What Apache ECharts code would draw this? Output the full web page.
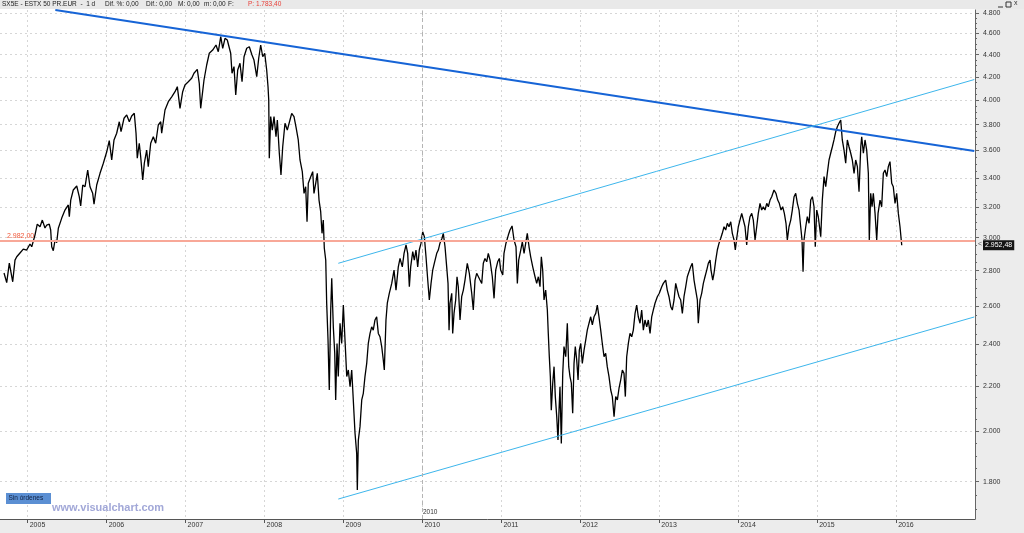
<!DOCTYPE html>
<html><head><meta charset="utf-8">
<script src="https://cdn.jsdelivr.net/npm/echarts@6/dist/echarts.min.js"></script>
<style>html,body{margin:0;padding:0;background:#fff}#c{width:1024px;height:533px}</style>
</head><body><div id="c"></div>
<script>
// ---- data (decimal year, close) ----
const years = [
2004.700,2004.734,2004.767,2004.810,2004.839,2004.861,2004.902,2004.944,2004.987,2005.029,
2005.051,2005.092,2005.121,2005.156,2005.185,2005.219,2005.241,2005.273,2005.291,2005.304,
2005.324,2005.346,2005.367,2005.388,2005.431,2005.472,2005.514,2005.527,2005.545,2005.577,
2005.621,2005.653,2005.671,2005.697,2005.726,2005.760,2005.789,2005.823,2005.840,2005.874,
2005.916,2005.958,2006.001,2006.033,2006.064,2006.093,2006.127,2006.160,2006.182,2006.220,
2006.254,2006.287,2006.317,2006.350,2006.372,2006.388,2006.413,2006.431,2006.457,2006.477,
2006.507,2006.527,2006.558,2006.591,2006.621,2006.654,2006.685,2006.697,2006.739,2006.781,
2006.824,2006.866,2006.895,2006.929,2006.963,2006.992,2007.034,2007.077,2007.106,2007.148,
2007.173,2007.191,2007.212,2007.233,2007.267,2007.300,2007.343,2007.385,2007.414,2007.445,
2007.470,2007.499,2007.528,2007.550,2007.571,2007.588,2007.613,2007.635,2007.660,2007.689,
2007.715,2007.740,2007.774,2007.807,2007.841,2007.866,2007.901,2007.926,2007.951,2007.977,
2008.002,2008.027,2008.044,2008.053,2008.060,2008.078,2008.098,2008.120,2008.145,2008.162,
2008.187,2008.208,2008.230,2008.259,2008.288,2008.322,2008.344,2008.373,2008.398,2008.427,
2008.449,2008.478,2008.500,2008.521,2008.538,2008.554,2008.585,2008.610,2008.626,2008.648,
2008.668,2008.690,2008.711,2008.728,2008.744,2008.757,2008.775,2008.787,2008.804,2008.820,
2008.838,2008.851,2008.871,2008.889,2008.901,2008.918,2008.934,2008.956,2008.977,2008.998,
2009.019,2009.041,2009.061,2009.083,2009.104,2009.124,2009.146,2009.167,2009.175,2009.188,
2009.209,2009.231,2009.251,2009.272,2009.294,2009.314,2009.336,2009.357,2009.377,2009.399,
2009.420,2009.441,2009.462,2009.484,2009.504,2009.517,2009.538,2009.555,2009.580,2009.611,
2009.640,2009.665,2009.694,2009.716,2009.745,2009.767,2009.792,2009.813,2009.834,2009.851,
2009.877,2009.897,2009.918,2009.940,2009.960,2009.982,2010.003,2010.024,2010.045,2010.067,
2010.087,2010.109,2010.130,2010.150,2010.181,2010.201,2010.222,2010.248,2010.264,2010.286,
2010.307,2010.324,2010.337,2010.349,2010.371,2010.383,2010.400,2010.421,2010.438,2010.454,
2010.476,2010.497,2010.518,2010.539,2010.568,2010.594,2010.624,2010.644,2010.666,2010.687,
2010.708,2010.729,2010.751,2010.771,2010.792,2010.814,2010.834,2010.856,2010.885,2010.907,
2010.928,2010.953,2010.974,2010.991,2011.017,2011.033,2011.058,2011.088,2011.109,2011.135,
2011.160,2011.185,2011.202,2011.219,2011.245,2011.265,2011.287,2011.308,2011.328,2011.350,
2011.371,2011.397,2011.426,2011.447,2011.468,2011.489,2011.506,2011.523,2011.540,2011.561,
2011.582,2011.594,2011.607,2011.620,2011.632,2011.650,2011.667,2011.683,2011.701,2011.717,
2011.730,2011.742,2011.759,2011.777,2011.793,2011.815,2011.835,2011.853,2011.869,2011.886,
2011.903,2011.920,2011.936,2011.954,2011.971,2011.987,2012.005,2012.025,2012.047,2012.068,
2012.088,2012.110,2012.131,2012.152,2012.173,2012.195,2012.215,2012.236,2012.258,2012.278,
2012.300,2012.321,2012.341,2012.363,2012.385,2012.405,2012.427,2012.448,2012.469,2012.490,
2012.511,2012.532,2012.553,2012.570,2012.587,2012.608,2012.629,2012.651,2012.671,2012.693,
2012.714,2012.734,2012.756,2012.777,2012.798,2012.819,2012.841,2012.861,2012.883,2012.904,
2012.924,2012.946,2012.975,2013.000,2013.031,2013.051,2013.081,2013.101,2013.123,2013.145,
2013.165,2013.187,2013.208,2013.228,2013.250,2013.271,2013.292,2013.313,2013.335,2013.355,
2013.376,2013.398,2013.418,2013.440,2013.461,2013.482,2013.494,2013.516,2013.537,2013.558,
2013.579,2013.601,2013.621,2013.643,2013.655,2013.677,2013.693,2013.715,2013.735,2013.757,
2013.778,2013.798,2013.820,2013.841,2013.862,2013.883,2013.905,2013.925,2013.947,2013.963,
2013.981,2014.001,2014.022,2014.044,2014.064,2014.086,2014.107,2014.128,2014.149,2014.171,
2014.191,2014.213,2014.234,2014.254,2014.276,2014.297,2014.318,2014.339,2014.361,2014.381,
2014.403,2014.424,2014.453,2014.478,2014.500,2014.520,2014.542,2014.563,2014.584,2014.605,
2014.622,2014.643,2014.665,2014.685,2014.707,2014.728,2014.749,2014.770,2014.791,2014.808,
2014.821,2014.833,2014.855,2014.875,2014.897,2014.918,2014.939,2014.960,2014.976,2014.994,
2015.014,2015.045,2015.065,2015.087,2015.108,2015.128,2015.150,2015.171,2015.192,2015.213,
2015.235,2015.255,2015.276,2015.298,2015.318,2015.340,2015.361,2015.382,2015.403,2015.425,
2015.445,2015.467,2015.488,2015.509,2015.530,2015.552,2015.564,2015.585,2015.606,2015.627,
2015.648,2015.660,2015.678,2015.695,2015.711,2015.733,2015.754,2015.771,2015.796,2015.817,
2015.838,2015.859,2015.881,2015.901,2015.922,2015.944,2015.964,2015.986,2016.007,2016.028,
2016.049,2016.071
];
const closes = [
2786,2730,2844,2735,2862,2882,2905,2929,2923,2960,
2943,3016,3086,3069,3112,3061,3080,3086,3048,2943,
2919,2985,2968,3059,3125,3178,3212,3134,3245,3314,
3342,3268,3205,3349,3337,3456,3337,3291,3218,3349,
3432,3505,3590,3675,3529,3680,3732,3823,3744,3851,
3878,3823,3869,3891,3732,3542,3655,3553,3384,3505,
3603,3480,3655,3705,3655,3797,3823,3732,3918,3987,
4028,4071,4114,3932,4071,4129,4157,4187,4231,4266,
4143,3932,3918,4172,4305,4412,4442,4489,4426,4568,
4458,4552,4536,4552,4412,4231,4290,4043,4260,4320,
4157,4380,4458,4473,4396,4350,4201,4366,4489,4380,
4412,4260,4114,4001,3542,3864,3757,3864,3705,3837,
3579,3420,3628,3811,3757,3837,3891,3864,3783,3680,
3529,3444,3291,3337,3101,3361,3408,3444,3291,3361,
3432,3245,3167,3027,3112,2934,2862,2615,2421,2181,
2578,2755,2489,2355,2136,2404,2243,2508,2404,2605,
2421,2243,2274,2196,2274,2136,1992,1910,1769,1964,
2020,2136,2166,2243,2306,2404,2455,2489,2472,2525,
2542,2455,2438,2388,2322,2274,2525,2615,2670,2726,
2803,2688,2822,2872,2822,2903,2954,2903,2707,2822,
2913,2862,2923,2822,2923,2965,3037,3006,2882,2745,
2633,2726,2803,2843,2903,2923,2965,2996,3027,2943,
2822,2726,2472,2615,2670,2455,2560,2633,2764,2707,
2525,2651,2688,2745,2843,2784,2670,2578,2745,2784,
2793,2745,2726,2843,2872,2852,2903,2862,2764,2642,
2803,2852,2872,2803,2774,2903,2965,3016,3048,3074,
2985,2943,2726,2862,2923,2974,2903,2965,3027,2943,
2882,2822,2764,2726,2764,2707,2882,2803,2633,2688,
2578,2455,2338,2243,2091,2212,2290,2151,2062,1964,
2091,2196,1950,2258,2388,2338,2508,2290,2243,2212,
2077,2306,2388,2322,2227,2371,2404,2306,2371,2421,
2472,2508,2542,2499,2542,2560,2605,2542,2472,2404,
2338,2355,2290,2243,2181,2151,2062,2151,2136,2189,
2227,2274,2258,2151,2338,2404,2455,2438,2472,2560,
2605,2542,2508,2578,2472,2525,2489,2525,2455,2542,
2578,2615,2651,2670,2707,2726,2745,2688,2651,2596,
2578,2633,2726,2688,2651,2633,2560,2651,2707,2764,
2793,2822,2843,2745,2688,2633,2508,2633,2670,2726,
2764,2803,2843,2862,2803,2745,2784,2862,2923,2965,
2996,3027,3069,3048,3091,3069,3101,3027,2985,2923,
2996,3069,3112,3156,3167,3069,2954,3069,3134,3156,
3112,2985,3069,3156,3223,3178,3200,3178,3223,3200,
3245,3268,3314,3291,3245,3223,3178,3200,3156,3091,
2985,3069,3112,3178,3268,3291,3223,3178,3069,2985,
2793,2985,3069,3134,3091,3245,3268,3200,2943,3178,
3134,3006,3245,3408,3337,3432,3529,3579,3628,3680,
3744,3783,3811,3837,3680,3603,3505,3680,3628,3579,
3529,3432,3529,3480,3302,3628,3705,3579,3680,3603,
3432,2985,3291,3200,3291,3156,2985,3156,3245,3200,
3432,3456,3408,3480,3517,3361,3337,3223,3291,3156,
3069,2952.48
];
// trend lines (two end points each)
const resistanceYears = [2005.35, 2016.99];
const resistanceValues = [4830, 3596];
const channelTopYears = [2008.934, 2016.99];
const channelTopValues = [2843, 4176];
const channelBottomYears = [2008.934, 2016.99];
const channelBottomValues = [1736, 2541];
const refLevel = 2982;
const lastClose = 2952.48;
const separatorYear = 2010;
// ticks
const yearTicks = [2005,2006,2007,2008,2009,2010,2011,2012,2013,2014,2015,2016];
const priceTicks = [1800,2000,2200,2400,2600,2800,3000,3200,3400,3600,3800,4000,4200,4400,4600,4800];
const minorStep = 50;
const xMin = 2004.649, xMax = 2016.999;
const yMin = 1665, yMax = 4830;

const minorTicks = [];
for (let v = 1700; v <= 4800; v += minorStep) minorTicks.push(v);
const fmtInt = v => String(Math.round(v)).replace(/\B(?=(\d{3})+(?!\d))/g, '.');
const fmtDec = v => { const p = v.toFixed(2).split('.'); return p[0].replace(/\B(?=(\d{3})+(?!\d))/g, '.') + ',' + p[1]; };

const n = Math.min(years.length, closes.length);
const priceData = [];
for (let i = 0; i < n; i++) priceData.push([years[i], closes[i]]);
const pair = (xs, ys) => xs.map((x, i) => [x, ys[i]]);

const FONT = 'Liberation Sans, Arial, sans-serif';
const chart = echarts.init(document.getElementById('c'), null, {renderer: 'canvas'});
chart.setOption({
  animation: false,
  backgroundColor: '#ffffff',
  textStyle: {fontFamily: FONT},
  grid: {left: 0, right: 49, top: 10, bottom: 14},
  xAxis: {
    type: 'value', min: xMin, max: xMax,
    axisLine: {show: true, onZero: false, lineStyle: {color: '#555', width: 1}},
    axisTick: {show: true, customValues: yearTicks, length: 4, lineStyle: {color: '#555'}},
    axisLabel: {customValues: yearTicks, formatter: v => String(Math.round(v)), align: 'left',
      fontSize: 7, color: '#333', margin: 3, padding: [0, 0, 0, 2], fontFamily: FONT},
    splitLine: {show: true, lineStyle: {color: '#d6d6d6', type: [2, 3], width: 1}}
  },
  yAxis: [{
    type: 'log', logBase: 10, min: yMin, max: yMax, position: 'right',
    axisLine: {show: true, lineStyle: {color: '#666', width: 1}},
    axisTick: {show: true, customValues: priceTicks, length: 4, lineStyle: {color: '#666'}},
    axisLabel: {customValues: priceTicks, formatter: v => fmtInt(v), fontSize: 7, color: '#333', margin: 8, fontFamily: FONT},
    splitLine: {show: true, lineStyle: {color: '#d6d6d6', type: [2, 3], width: 1}}
  }, {
    type: 'log', logBase: 10, min: yMin, max: yMax, position: 'right',
    axisLine: {show: false},
    axisTick: {show: true, customValues: minorTicks, length: 2, lineStyle: {color: '#666'}},
    axisLabel: {show: false},
    splitLine: {show: false}
  }],
  series: [
    {
      type: 'line', z: 1, silent: true, symbol: 'none', data: [[years[0], refLevel]],
      lineStyle: {opacity: 0},
      markLine: {
        silent: true, symbol: 'none', animation: false,
        data: [
          {yAxis: refLevel, lineStyle: {color: '#f8a898', width: 2, type: 'solid'},
           label: {show: true, position: 'insideStartTop', formatter: fmtDec(refLevel), color: '#f0583a', fontSize: 7, distance: [7, 1], fontFamily: FONT}},
          {xAxis: separatorYear, lineStyle: {color: '#b4b4b4', width: 1, type: [4, 3]}, label: {show: false}}
        ]
      }
    },
    {
      type: 'line', z: 2, data: priceData, symbol: 'none', silent: true, clip: false,
      lineStyle: {color: '#000', width: 1.3},
      markLine: {
        silent: true, symbol: 'none', animation: false,
        data: [{yAxis: lastClose, lineStyle: {color: 'rgba(0,0,0,0)', width: 0.01},
          label: {show: true, position: 'end', formatter: fmtDec(lastClose), color: '#fff', backgroundColor: '#151515',
            padding: [2, 2, 1, 2], fontSize: 7, distance: 8, fontFamily: FONT}}]
      }
    },
    {type: 'line', z: 3, silent: true, symbol: 'none', data: pair(resistanceYears, resistanceValues), lineStyle: {color: '#1664d6', width: 2}},
    {type: 'line', z: 3, silent: true, symbol: 'none', data: pair(channelTopYears, channelTopValues), lineStyle: {color: '#3db6ec', width: 1}},
    {type: 'line', z: 3, silent: true, symbol: 'none', data: pair(channelBottomYears, channelBottomValues), lineStyle: {color: '#3db6ec', width: 1}}
  ],
  graphic: [
    {type: 'rect', z: -1, shape: {x: 0, y: 0, width: 1024, height: 9}, style: {fill: '#e9e9e9'}},
    {type: 'rect', z: -1, shape: {x: 975, y: 9, width: 49, height: 510}, style: {fill: '#ececec'}},
    {type: 'rect', z: -1, shape: {x: 0, y: 519, width: 1024, height: 14}, style: {fill: '#ececec'}},
    {type: 'text', z: 10, x: 2, y: 1, style: {text: 'SX5E - ESTX 50 PR.EUR  -  1 d', fontSize: 6.5, fill: '#222', fontFamily: FONT}},
    {type: 'text', z: 10, x: 105, y: 1, style: {text: 'Dif. %: 0,00', fontSize: 6.5, fill: '#222', fontFamily: FONT}},
    {type: 'text', z: 10, x: 146, y: 1, style: {text: 'Dif.: 0,00', fontSize: 6.5, fill: '#222', fontFamily: FONT}},
    {type: 'text', z: 10, x: 178, y: 1, style: {text: 'M: 0,00', fontSize: 6.5, fill: '#222', fontFamily: FONT}},
    {type: 'text', z: 10, x: 204, y: 1, style: {text: 'm: 0,00', fontSize: 6.5, fill: '#222', fontFamily: FONT}},
    {type: 'text', z: 10, x: 228, y: 1, style: {text: 'F:', fontSize: 6.5, fill: '#222', fontFamily: FONT}},
    {type: 'text', z: 10, x: 248, y: 1, style: {text: 'P: 1.783,40', fontSize: 6.5, fill: '#e8403a', fontFamily: FONT}},
    {type: 'line', z: 10, shape: {x1: 998, y1: 7, x2: 1003, y2: 7}, style: {stroke: '#333', lineWidth: 1}},
    {type: 'rect', z: 10, shape: {x: 1006, y: 2, width: 5, height: 5}, style: {stroke: '#333', fill: 'none', lineWidth: 1}},
    {type: 'text', z: 10, x: 1014, y: 0, style: {text: 'x', fontSize: 7, fill: '#333', fontFamily: FONT}},
    {type: 'text', z: 10, x: 978, y: 241, style: {text: '<', fontSize: 7, fill: '#555', fontFamily: FONT}},
    {type: 'rect', z: 10, shape: {x: 6, y: 493, width: 45, height: 11}, style: {fill: '#5b8fd3'}},
    {type: 'text', z: 11, x: 8.5, y: 495, style: {text: 'Sin órdenes', fontSize: 6.5, fill: '#102040', fontFamily: FONT}},
    {type: 'text', z: 10, x: 52, y: 502, style: {text: 'www.visualchart.com', fontSize: 11, fontWeight: 'bold', fill: '#a2a8d8', fontFamily: FONT}},
    {type: 'text', z: 10, x: 423, y: 509, style: {text: '2010', fontSize: 6.5, fill: '#333', fontFamily: FONT}}
  ]
});
</script>
</body></html>
